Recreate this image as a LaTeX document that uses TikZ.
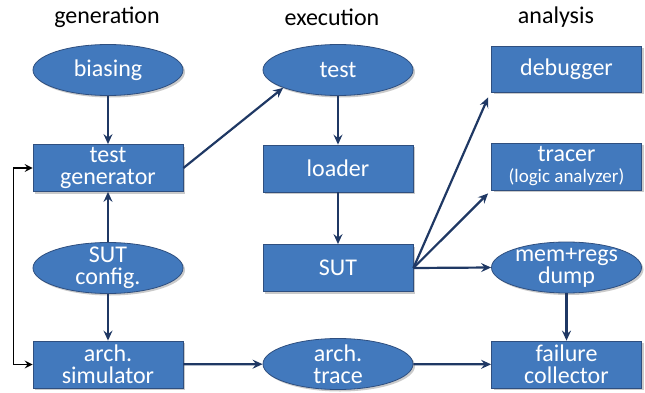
\documentclass[tikz,border=0pt]{standalone}
\usepackage{fontspec}
\setmainfont{Carlito}
\usetikzlibrary{arrows.meta,shapes.geometric,shadows}

\definecolor{boxfill}{HTML}{4279BD}
\definecolor{boxline}{HTML}{2F4F7F}
\definecolor{flow}{HTML}{1F3864}

\tikzset{
  x=1pt, y=1pt,
  shade/.style={drop shadow={shadow xshift=2pt, shadow yshift=-2pt, opacity=0.35, fill=black!60}},
  block/.style={rectangle, draw=boxline, line width=0.8pt, fill=boxfill, shade,
    text=white, align=center, inner sep=0pt,
    minimum width=150pt, minimum height=47pt,
    font=\fontsize{24}{22}\selectfont},
  blob/.style={ellipse, draw=boxline, line width=0.8pt, fill=boxfill, shade,
    text=white, align=center, inner sep=-8pt,
    minimum width=150pt, minimum height=51pt,
    font=\fontsize{24}{22}\selectfont},
  heading/.style={text=black, font=\fontsize{24}{24}\selectfont, inner sep=0pt},
  link/.style={draw=flow, line width=2.2pt, -{Stealth[length=10pt,width=9pt,inset=3.5pt]}},
  loopback/.style={draw=black, line width=1.6pt,
    {Stealth[length=8pt,width=8pt,inset=3pt]}-{Stealth[length=8pt,width=8pt,inset=3pt]}},
}

\begin{document}
\begin{tikzpicture}
\useasboundingbox (0,0) rectangle (645,392);

% column headings
\node[heading] (hgen) at (107,375) {generation};
\node[heading] (hexe) at (332,375) {execution};
\node[heading] (hana) at (556,375) {analysis};

% generation column
\node[blob]  (biasing) at (108,322)   {biasing};
\node[block] (testgen) at (108,224)   {test\\generator};
\node[blob]  (sutcfg)  at (108,124)   {SUT\\config.};
\node[block] (archsim) at (108,27.5)  {arch.\\simulator};

% execution column
\node[blob]  (test)      at (338,322)  {test};
\node[block] (loader)    at (338,223.5){loader};
\node[block] (sut)       at (338,124)  {SUT};
\node[blob]  (archtrace) at (338,28)   {arch.\\trace};

% analysis column
\node[block, minimum height=46pt] (debugger) at (566.5,323) {debugger};
\node[block] (tracer) at (566.5,225.5)
  {tracer\\[-1pt]{\fontsize{19}{19}\selectfont(logic analyzer)}};
\node[blob]  (memregs) at (566.5,124.5) {mem+regs\\dump};
\node[block] (failure) at (566.5,27.5)  {failure\\collector};

% flow between stages
\draw[link] (biasing) -- (testgen);
\draw[link] (sutcfg) -- (testgen);
\draw[link] (sutcfg) -- (archsim);
\draw[link] (testgen.east) -- (test.198);
\draw[link] (test) -- (loader);
\draw[link] (loader) -- (sut);
\draw[link] (sut.east) -- ([shift={(-3pt,-5pt)}]debugger.south west);
\draw[link] (sut.east) -- ([shift={(-3pt,-3pt)}]tracer.south west);
\draw[link] (sut.east) -- (memregs.west);
\draw[link] (memregs) -- (failure);
\draw[link] (archsim) -- (archtrace);
\draw[link] (archtrace) -- (failure);

% feedback between generator and simulator
\draw[loopback] (testgen.west) -- ++(-19,0) |- (archsim.west);
\end{tikzpicture}
\end{document}
